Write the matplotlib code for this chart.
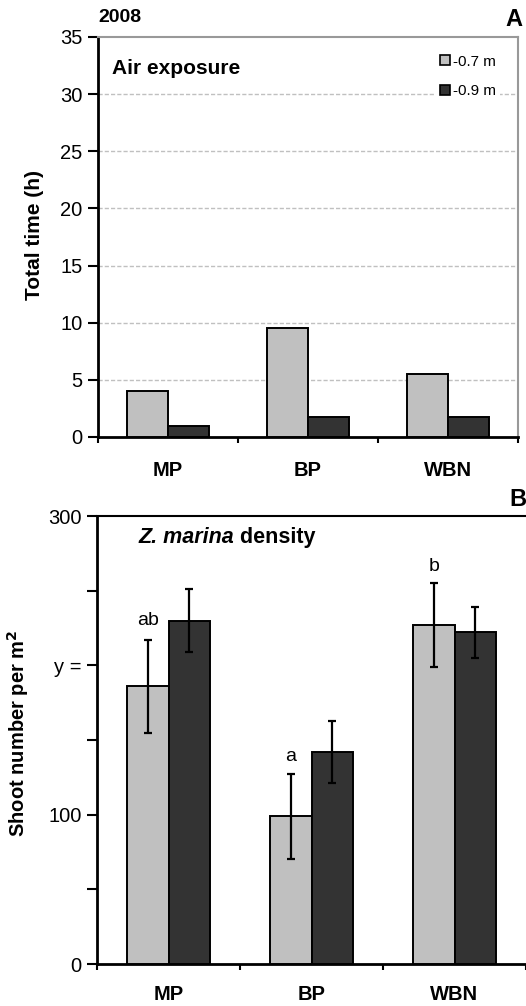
import matplotlib
matplotlib.use("Agg")
import matplotlib.pyplot as plt
from matplotlib.lines import Line2D
import numpy as np

plt.rcParams['font.family'] = ['Liberation Sans', 'DejaVu Sans']

sites = ["MP", "BP", "WBN"]
series = ["-0.7 m", "-0.9 m"]
air_07 = [4.0, 9.5, 5.5]
air_09 = [1.0, 1.75, 1.75]
dens_07 = [186, 99, 227]
dens_09 = [230, 142, 222]
err_07 = [31, 28.5, 28]
err_09 = [21, 21, 17]
letters = ["ab", "a", "b"]
letter_y = [230, 139, 266]
dens_ticklabels = ["0", "", "100", "", "y =", "", "300"]

light = "#C0C0C0"
dark = "#333333"

fig = plt.figure(figsize=(5.26, 10.06), dpi=100)

x = np.arange(len(sites)) + 0.5
bw = 0.29
TICK_FS = 14.5
LBL_FS = 14.5

# ---- Panel A ----
ax1 = fig.add_axes([98/526, 1-437/1006, 420/526, 400/1006])
ax1.bar(x - bw/2, air_07, bw, color=light, edgecolor="black", linewidth=1.4, zorder=3)
ax1.bar(x + bw/2, air_09, bw, color=dark, edgecolor="black", linewidth=1.4, zorder=3)
ax1.set_xlim(0, 3)
ax1.set_ylim(0, 35)
ax1.set_yticks(np.arange(0, 36, 5))
ax1.set_yticklabels([str(v) for v in range(0, 36, 5)], fontsize=TICK_FS)
for v in range(5, 35, 5):
    ax1.axhline(v, color="#C0C0C0", linestyle=(0, (3, 1.5)), linewidth=1.0, zorder=1)
ax1.set_xticks([0, 1, 2, 3])
ax1.set_xticklabels([])
ax1.tick_params(axis="x", direction="out", length=4, width=1.5)
ax1.tick_params(axis="y", direction="out", length=7, width=1.5, pad=4)
for i, s in enumerate(sites):
    ax1.text(x[i], -0.085, s, transform=ax1.get_xaxis_transform(), ha="center", va="center",
             fontsize=LBL_FS, fontweight="bold")
ax1.spines["left"].set_linewidth(2)
ax1.spines["bottom"].set_linewidth(2)
ax1.spines["top"].set_color("#999999")
ax1.spines["right"].set_color("#999999")
ax1.spines["top"].set_linewidth(1.5)
ax1.spines["right"].set_linewidth(1.5)
ax1.set_ylabel("Total time (h)", fontsize=15, fontweight="bold")
ax1.yaxis.set_label_coords(-0.129, 0.505)
ax1.text(0.033, 0.9225, "Air exposure", transform=ax1.transAxes, fontsize=15, fontweight="bold",
         ha="left", va="center")
ax1.text(0.0, 1.05, "2008", transform=ax1.transAxes, fontsize=14, fontweight="bold",
         ha="left", va="center")
ax1.text(0.99, 1.0425, "A", transform=ax1.transAxes, fontsize=17, fontweight="bold",
         ha="center", va="center")
handles = [Line2D([], [], marker="s", linestyle="none", markersize=7.5, markerfacecolor=c,
                  markeredgecolor="black", markeredgewidth=1.2) for c in (light, dark)]
leg = ax1.legend(handles, series, loc="upper right", bbox_to_anchor=(0.965, 0.975),
                 fontsize=11, frameon=True, facecolor="white", edgecolor="none",
                 framealpha=1.0, handlelength=0.7, handletextpad=0.15, labelspacing=1.0,
                 borderpad=0.3, borderaxespad=0.2)
leg.set_zorder(5)

# ---- Panel B ----
ax2 = fig.add_axes([97/526, 1-964/1006, 429/526, 448/1006])
ax2.bar(x - bw/2, dens_07, bw, color=light, edgecolor="black", linewidth=1.4, zorder=3)
ax2.bar(x + bw/2, dens_09, bw, color=dark, edgecolor="black", linewidth=1.4, zorder=3)
ax2.errorbar(x - bw/2, dens_07, yerr=err_07, fmt="none", ecolor="black", elinewidth=1.6,
             capsize=3, capthick=1.6, zorder=4)
ax2.errorbar(x + bw/2, dens_09, yerr=err_09, fmt="none", ecolor="black", elinewidth=1.6,
             capsize=3, capthick=1.6, zorder=4)
for i, l in enumerate(letters):
    ax2.text(x[i] - bw/2, letter_y[i], l, ha="center", va="center", fontsize=14)
ax2.set_xlim(0, 3)
ax2.set_ylim(0, 300)
ax2.set_yticks(np.arange(0, 301, 50))
ax2.set_yticklabels(dens_ticklabels, fontsize=TICK_FS)
ax2.set_xticks([0, 1, 2, 3])
ax2.set_xticklabels([])
ax2.tick_params(axis="x", direction="out", length=4, width=1.5)
ax2.tick_params(axis="y", direction="out", length=7, width=1.5, pad=4)
for i, s in enumerate(sites):
    ax2.text(x[i], -0.068, s, transform=ax2.get_xaxis_transform(), ha="center", va="center",
             fontsize=LBL_FS, fontweight="bold")
ax2.spines["left"].set_linewidth(2)
ax2.spines["bottom"].set_linewidth(2)
ax2.spines["top"].set_linewidth(1.5)
ax2.spines["right"].set_visible(False)
ax2.set_ylabel("Shoot number per m$^\\mathbf{2}$", fontsize=14.5, fontweight="bold")
ax2.yaxis.set_label_coords(-0.153, 0.516)
t1 = ax2.text(0.0956, 0.94, "Z. marina", transform=ax2.transAxes, fontsize=15.5,
              fontweight="bold", fontstyle="italic", ha="left", va="baseline")
ax2.annotate(" density", xy=(1, 0), xycoords=t1, fontsize=15.5, fontweight="bold",
             ha="left", va="bottom")
ax2.text(0.981, 1.036, "B", transform=ax2.transAxes, fontsize=17, fontweight="bold",
         ha="center", va="center")

fig.savefig("out.png", dpi=100)
